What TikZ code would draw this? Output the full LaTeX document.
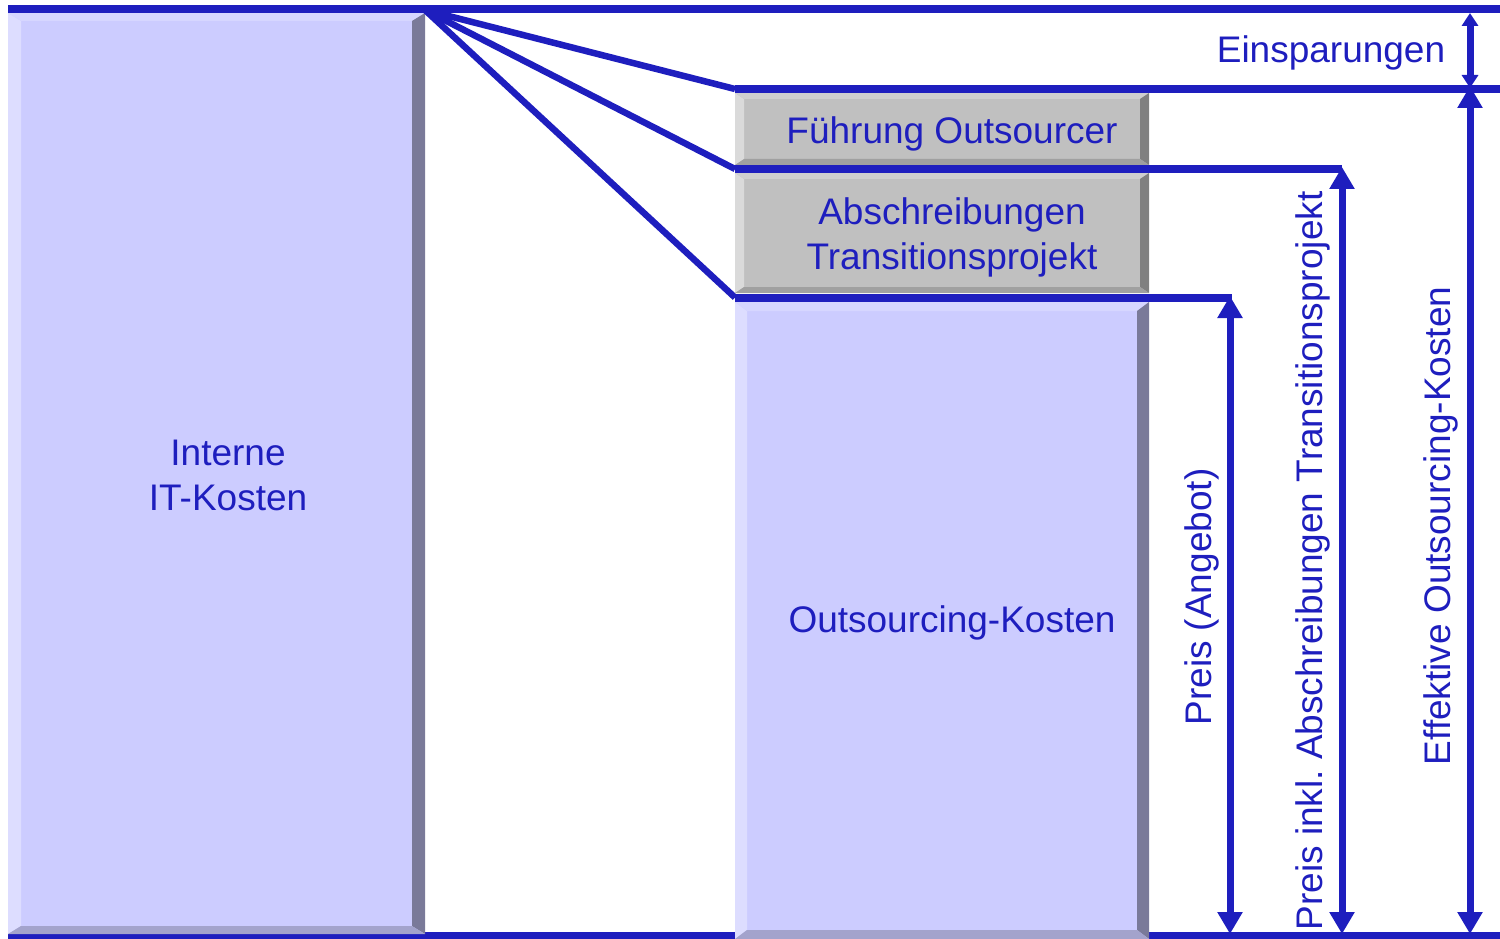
\documentclass[tikz,border=0pt]{standalone}
\usepackage{fontspec}
\setmainfont{Liberation Sans}
\usetikzlibrary{arrows.meta}
\frenchspacing
\definecolor{lineblue}{HTML}{1E1EBE}
\definecolor{bmain}{HTML}{CCCCFF}
\definecolor{bleft}{HTML}{DDDDFF}
\definecolor{btop}{HTML}{D6D6FF}
\definecolor{bright}{HTML}{7A7A99}
\definecolor{bbottom}{HTML}{A3A3CC}
\definecolor{gmain}{HTML}{C0C0C0}
\definecolor{gleft}{HTML}{DADADA}
\definecolor{gtop}{HTML}{CFCFCF}
\definecolor{gright}{HTML}{808080}
\definecolor{gbottom}{HTML}{A0A0A0}
\newcommand{\bevH}{12}
\newcommand{\bevV}{8}
\newcommand{\bevelbox}[9]{%
  % #1 x1, #2 y1, #3 x2, #4 y2, #5 main, #6 left, #7 top, #8 right, #9 bottom
  \fill[#5] (#1,#2) rectangle (#3,#4);
  \fill[#6] (#1,#2) -- (#1+\bevH,#2+\bevV) -- (#1+\bevH,#4-\bevV) -- (#1,#4) -- cycle;
  \fill[#7] (#1,#2) -- (#3,#2) -- (#3-\bevH,#2+\bevV) -- (#1+\bevH,#2+\bevV) -- cycle;
  \fill[#8] (#3,#2) -- (#3,#4) -- (#3-\bevH,#4-\bevV) -- (#3-\bevH,#2+\bevV) -- cycle;
  \fill[#9] (#1,#4) -- (#3,#4) -- (#3-\bevH,#4-\bevV) -- (#1+\bevH,#4-\bevV) -- cycle;
}
\tikzset{
  lbl/.style={text=lineblue, font=\fontsize{37}{45}\selectfont, inner sep=0pt, align=center},
  hline/.style={draw=lineblue, line width=8pt},
  fanline/.style={draw=lineblue, line width=6.5pt},
  dimarrow/.style={draw=lineblue, line width=7pt, arrows={Triangle[width=24pt,length=22pt]-Triangle[width=24pt,length=22pt]}},
  smallarrow/.style={draw=lineblue, line width=7pt, arrows={Triangle[width=16pt,length=13pt]-Triangle[width=16pt,length=13pt]}},
}
\begin{document}
\begin{tikzpicture}[x=1pt,y=-1pt]
\useasboundingbox (0,0) rectangle (1500,939);
% bottom line (under boxes)
\coordinate (botL) at (8,936);
\coordinate (botR) at (1500,936);
\draw[hline] (botL) -- (botR);
% boxes
\renewcommand{\bevH}{13}\renewcommand{\bevV}{8}
\bevelbox{8}{13}{425}{934}{bmain}{bleft}{btop}{bright}{bbottom}
\renewcommand{\bevH}{9}\renewcommand{\bevV}{6}
\bevelbox{735}{93}{1149}{165}{gmain}{gleft}{gtop}{gright}{gbottom}
\bevelbox{735}{173}{1149}{293}{gmain}{gleft}{gtop}{gright}{gbottom}
\renewcommand{\bevH}{12}\renewcommand{\bevV}{9}
\bevelbox{735}{302}{1149}{939}{bmain}{bleft}{btop}{bright}{bbottom}
% horizontal lines
\coordinate (topL) at (8,9);
\coordinate (topR) at (1500,9);
\coordinate (fan) at (425,10);
\coordinate (l2L) at (735,89);
\coordinate (l2R) at (1500,89);
\coordinate (l3L) at (735,169);
\coordinate (l3R) at (1342,169);
\coordinate (l4L) at (735,297.5);
\coordinate (l4R) at (1232,297.5);
\draw[hline] (topL) -- (topR);
\draw[hline] (l2L) -- (l2R);
\draw[hline] (l3L) -- (l3R);
\draw[hline] (l4L) -- (l4R);
% fan lines
\draw[fanline] (fan) -- (l2L);
\draw[fanline] (fan) -- (l3L);
\draw[fanline] (fan) -- (l4L);
% dimension arrows
\coordinate (a1t) at (1230,296);
\coordinate (a1b) at (1230,934);
\coordinate (a2t) at (1342,167);
\coordinate (a2b) at (1342,934);
\coordinate (a3t) at (1470,86);
\coordinate (a3b) at (1470,934);
\coordinate (a4t) at (1470,13);
\coordinate (a4b) at (1470,88);
\draw[dimarrow] (a1t) -- (a1b);
\draw[dimarrow] (a2t) -- (a2b);
\draw[dimarrow] (a3t) -- (a3b);
\draw[smallarrow] (a4t) -- (a4b);
% labels
\node[lbl] (eins) at (1331,52.5) {Einsparungen};
\node[lbl] (fuehr) at (952,133.5) {Führung Outsourcer};
\node[lbl] (absch) at (952,237.5) {Abschreibungen\\Transitionsprojekt};
\node[lbl] (intern) at (228,475) {Interne\\IT-Kosten};
\node[lbl] (outk) at (952,622.5) {Outsourcing-Kosten};
\node[lbl, rotate=90] (preis) at (1202,597) {Preis (Angebot)};
\node[lbl, rotate=90] (preisinkl) at (1313,561) {Preis inkl. Abschreibungen Transitionsprojekt};
\node[lbl, rotate=90] (eff) at (1441,526) {Effektive Outsourcing-Kosten};
\end{tikzpicture}
\end{document}
